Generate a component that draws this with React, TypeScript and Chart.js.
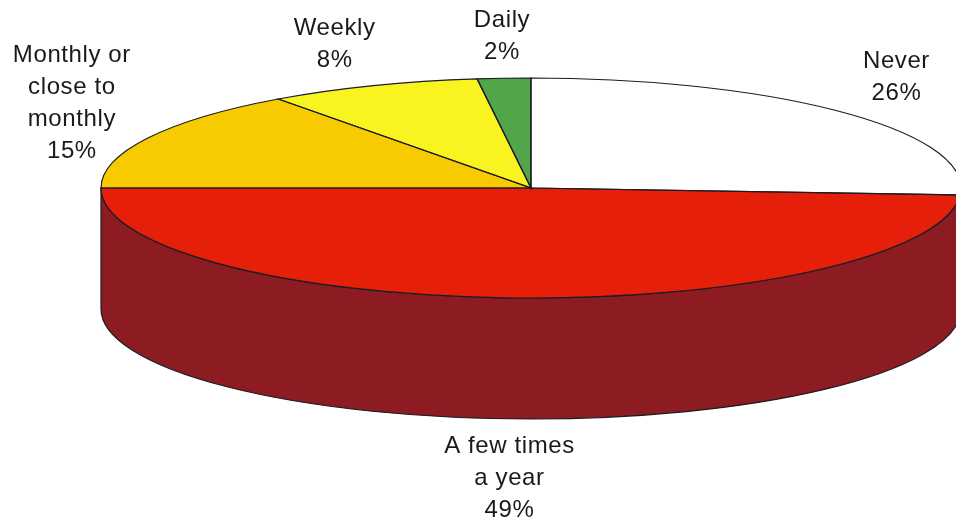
import React, { useEffect, useRef } from "react";
import { Chart, registerables } from "chart.js";

Chart.register(...registerables);

// ---- data ----
const categories = ["Never", "A few times a year", "Monthly or close to monthly", "Weekly", "Daily"];
const labelLines = [["Never"], ["A few times", "a year"], ["Monthly or", "close to", "monthly"], ["Weekly"], ["Daily"]];
const values = [26, 49, 15, 8, 2];

// ---- styles ----
const topColors = ["#FFFFFF", "#E61F0B", "#F7CB00", "#F9F41F", "#52A64A"];
const wallColors = ["#C8C8C8", "#8D1B22", "#B08E00", "#B0AC10", "#2E6B2A"];
const labelOffsets: number[][] = [[52, -45], [-8, 34], [-76, -76], [-38, -51], [-2, -51]];
const RX = 430;
const RY = 110;
const DEPTH = 121;
const LINE_H = 32;
const FONT = '24px "Liberation Sans", Arial, Helvetica, sans-serif';
const EDGE = "#1c1c24";

const pie3d = {
  id: "pie3d",
  beforeDatasetsDraw(chart: any) {
    const arcs = chart.getDatasetMeta(0).data;
    if (!arcs.length) return;
    const a0 = arcs[0];
    const cx = a0.x, cy = a0.y, r = a0.outerRadius;
    const ctx = chart.ctx;
    ctx.save();
    arcs.forEach((arc: any, i: number) => {
      const s = Math.max(arc.startAngle, 0);
      const e = Math.min(arc.endAngle, Math.PI);
      if (e <= s) return;
      ctx.beginPath();
      ctx.ellipse(cx, cy, RX, RY, 0, s, e, false);
      ctx.lineTo(cx + RX * Math.cos(e), cy + RY * Math.sin(e) + DEPTH);
      ctx.ellipse(cx, cy + DEPTH, RX, RY, 0, e, s, true);
      ctx.closePath();
      ctx.fillStyle = wallColors[i];
      ctx.fill();
      ctx.lineWidth = 1.2;
      ctx.strokeStyle = EDGE;
      ctx.stroke();
    });
    ctx.restore();
    ctx.save();
    ctx.translate(cx, cy);
    ctx.scale(RX / r, RY / r);
    ctx.translate(-cx, -cy);
  },
  afterDatasetsDraw(chart: any) {
    const ctx = chart.ctx;
    ctx.restore();
    const arcs = chart.getDatasetMeta(0).data;
    if (!arcs.length) return;
    const cx = arcs[0].x, cy = arcs[0].y;
    ctx.save();
    arcs.forEach((arc: any) => {
      ctx.beginPath();
      ctx.moveTo(cx, cy);
      ctx.ellipse(cx, cy, RX, RY, 0, arc.startAngle, arc.endAngle, false);
      ctx.closePath();
      ctx.lineWidth = 1.2;
      ctx.strokeStyle = EDGE;
      ctx.stroke();
    });
    ctx.font = FONT;
    (ctx as any).letterSpacing = "0.6px";
    ctx.fillStyle = "#1a1a1a";
    ctx.textAlign = "center";
    ctx.textBaseline = "alphabetic";
    arcs.forEach((arc: any, i: number) => {
      const mid = (arc.startAngle + arc.endAngle) / 2;
      const px = cx + RX * Math.cos(mid);
      const py = cy + RY * Math.sin(mid) + (Math.sin(mid) > 0.5 ? DEPTH : 0);
      const lines = [...labelLines[i], `${values[i]}%`];
      lines.forEach((t, k) => {
        ctx.fillText(t, px + labelOffsets[i][0], py + labelOffsets[i][1] + k * LINE_H);
      });
    });
    ctx.restore();
  },
};

export default function App() {
  const ref = useRef<HTMLCanvasElement | null>(null);
  useEffect(() => {
    if (!ref.current) return;
    const chart = new Chart(ref.current, {
      type: "pie",
      data: {
        labels: categories,
        datasets: [
          {
            data: values,
            backgroundColor: topColors,
            borderWidth: 0,
            hoverOffset: 0,
            clip: false,
          } as any,
        ],
      },
      options: {
        animation: false,
        responsive: true,
        maintainAspectRatio: false,
        events: [],
        layout: { padding: { top: 78, bottom: 225, left: 421, right: 315 } },
        plugins: { legend: { display: false }, tooltip: { enabled: false } },
      },
      plugins: [pie3d],
    });
    return () => chart.destroy();
  }, []);
  return (
    <div style={{ position: "absolute", left: 0, top: 0, width: 956, height: 523, background: "#fff" }}>
      <canvas ref={ref} />
    </div>
  );
}
